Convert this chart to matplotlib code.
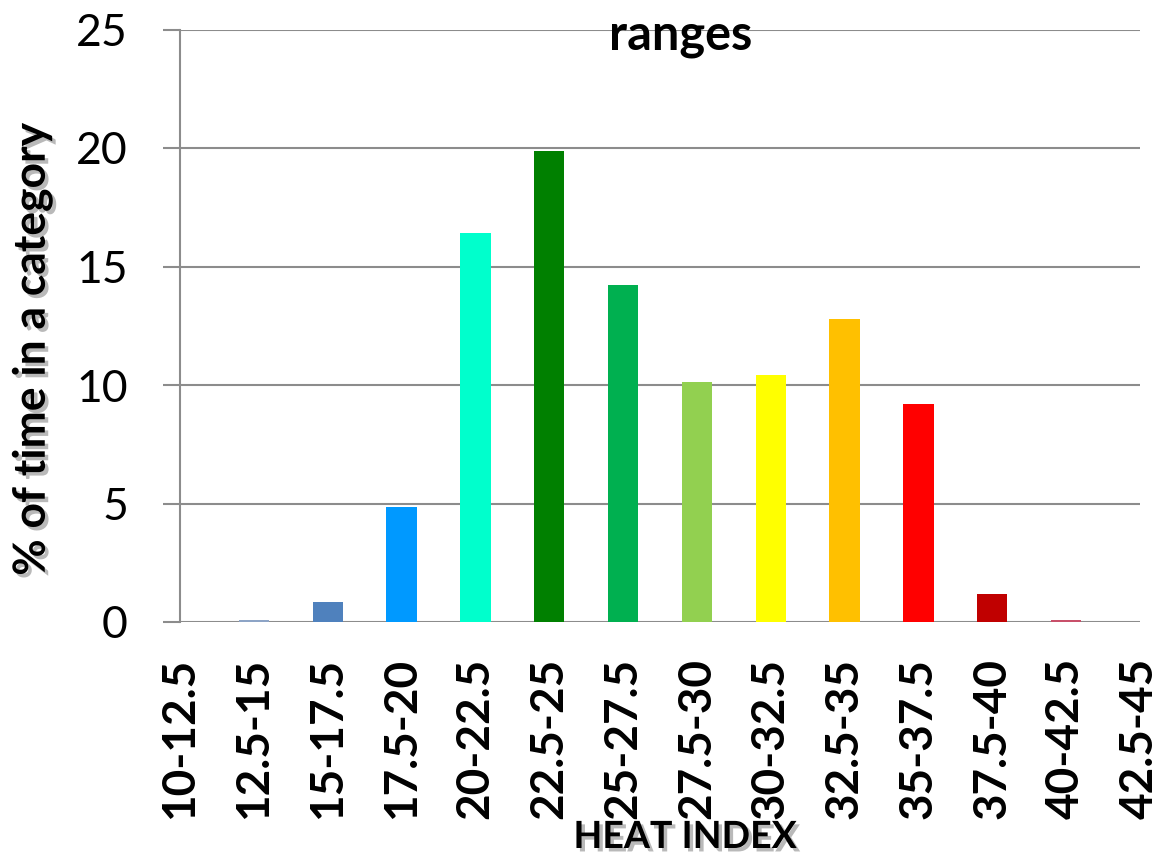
import matplotlib
matplotlib.use("Agg")
import matplotlib.pyplot as plt
import matplotlib.patheffects as pe

categories = ["10-12.5", "12.5-15", "15-17.5", "17.5-20", "20-22.5", "22.5-25",
              "25-27.5", "27.5-30", "30-32.5", "32.5-35", "35-37.5", "37.5-40",
              "40-42.5", "42.5-45"]
percent_time = [0.0, 0.08, 0.84, 4.86, 16.43, 19.89, 14.23, 10.13, 10.43,
                12.80, 9.21, 1.18, 0.08, 0.0]
bar_colors = ["#4F81BD", "#8DA4C6", "#4F81BD", "#0099FF", "#00FFCC", "#008000",
              "#00B050", "#92D050", "#FFFF00", "#FFC000", "#FF0000", "#C00000",
              "#C8506A", "#C0504D"]
y_ticks = [0, 5, 10, 15, 20, 25]

W, H = 1162, 857
fig = plt.figure(figsize=(W / 100, H / 100), dpi=100)
ax = fig.add_axes([180 / W, 1 - 622 / H, 960 / W, (622 - 29.5) / H])

grid_col = "#8C8C8C"
x = list(range(len(categories)))
ax.bar(x, percent_time, width=0.41, color=bar_colors, zorder=3)

ax.set_xlim(0, len(categories) - 1)
ax.set_ylim(0, 25)
ax.set_yticks(y_ticks)
ax.yaxis.grid(True, color=grid_col, linewidth=1.5, zorder=0)
ax.set_axisbelow(True)

for side in ("top", "right", "bottom"):
    ax.spines[side].set_visible(False)
ax.spines["left"].set_color(grid_col)
ax.spines["left"].set_linewidth(1.5)

ax.tick_params(axis="y", direction="out", length=12.5, width=1.5, color=grid_col,
               pad=25, labelsize=32)
for lbl in ax.get_yticklabels():
    lbl.set_fontfamily("Lato")

ax.set_xticks(x)
ax.set_xticklabels(categories, rotation=90, fontfamily="Lato", fontweight="bold",
                   fontsize=33)
ax.tick_params(axis="x", length=0, pad=26)

shadow = [pe.SimplePatchShadow(offset=(2.5, -2.5), shadow_rgbFace="#808080", alpha=0.55),
          pe.Normal()]

fig.text(681 / W, 1 - 50 / H, "ranges", ha="center", va="baseline",
         fontfamily="Lato", fontweight="bold", fontsize=35)
fig.text(685 / W, 1 - 848 / H, "HEAT INDEX", ha="center", va="baseline",
         fontfamily="Lato", fontweight="bold", fontsize=27, path_effects=shadow)
fig.text(32 / W, 1 - 349 / H, "% of time in a category", ha="center", va="center",
         rotation=90, fontfamily="Lato", fontweight="bold", fontsize=32,
         path_effects=shadow)

fig.savefig("out.png", dpi=100)
